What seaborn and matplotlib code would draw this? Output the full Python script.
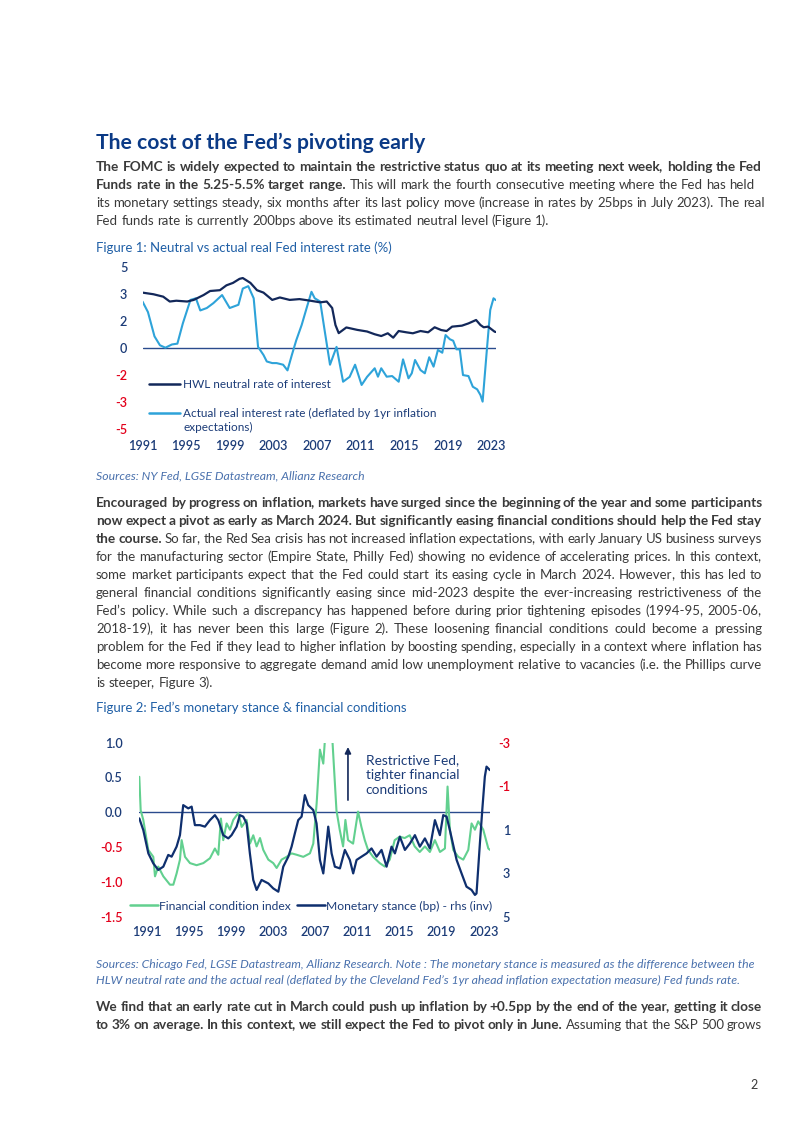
"""Page 2 of the Fed pivot note: text plus two line charts."""
import matplotlib
matplotlib.use("Agg")
import matplotlib.pyplot as plt
import numpy as np
import seaborn as sns
from matplotlib.lines import Line2D

sns.set_theme(style="white")
plt.rcParams["font.family"] = "Lato"

PAGE_W, PAGE_H = 802, 1133

TITLE_BLUE = "#0b3a86"
CAPTION_BLUE = "#1f5fa6"
SOURCE_BLUE = "#4a71ad"
BODY_GREY = "#3a3a3a"
NAVY = "#13285a"
LIGHT_BLUE = "#2ea3d9"
GREEN = "#62d08f"
STANCE_NAVY = "#0f2f6e"
ZERO_BLUE = "#2a4b8d"
TICK_NAVY = "#1c3c78"
TICK_RED = "#e3001b"

# Figure 1: neutral vs actual real Fed rate (%)
NEUTRAL_YEAR = [1991.0, 1992.0, 1992.9, 1993.5, 1994.1, 1995.1, 1995.7, 1996.6, 1997.2, 1998.1,
                1998.7, 1999.3, 1999.9, 2000.2, 2000.9, 2001.5, 2002.1, 2002.9, 2003.6, 2004.5,
                2005.4, 2006.4, 2007.3, 2007.9, 2008.4, 2008.7, 2009.0, 2009.7, 2010.7, 2011.6,
                2012.3, 2012.9, 2013.5, 2014.0, 2014.5, 2015.2, 2015.8, 2016.5, 2017.2, 2017.8,
                2018.4, 2018.9, 2019.4, 2020.3, 2020.9, 2021.6, 2022.0, 2022.3, 2022.7, 2023.3,
                2023.4]
NEUTRAL_RATE = [3.40, 3.30, 3.15, 2.85, 2.90, 2.85, 2.95, 3.25, 3.50, 3.55,
                3.85, 4.00, 4.25, 4.30, 4.00, 3.55, 3.40, 2.95, 3.10, 2.95,
                3.00, 2.90, 2.80, 2.85, 2.45, 1.40, 0.90, 1.25, 1.10, 1.00,
                0.83, 0.72, 0.89, 0.62, 1.03, 0.95, 0.89, 1.03, 0.95, 1.26,
                1.09, 1.03, 1.30, 1.36, 1.50, 1.71, 1.40, 1.26, 1.30, 0.99,
                0.97]
ACTUAL_YEAR = [1991.0, 1991.5, 1992.1, 1992.6, 1993.1, 1993.7, 1994.2, 1994.7, 1995.4, 1995.9,
               1996.3, 1996.9, 1997.5, 1998.3, 1999.0, 1999.8, 2000.2, 2000.7, 2001.2, 2001.6,
               2002.1, 2002.4, 2002.9, 2003.3, 2003.9, 2004.3, 2004.7, 2005.1, 2005.6, 2006.1,
               2006.5, 2006.8, 2007.3, 2007.7, 2008.2, 2008.8, 2009.4, 2010.0, 2010.5, 2011.1,
               2011.6, 2012.3, 2012.6, 2012.9, 2013.4, 2013.9, 2014.5, 2014.9, 2015.4, 2015.7,
               2016.0, 2016.5, 2016.9, 2017.3, 2017.7, 2018.1, 2018.5, 2018.8, 2019.2, 2019.5,
               2019.8, 2020.1, 2020.4, 2020.9, 2021.3, 2021.7, 2022.0, 2022.2, 2022.6, 2022.9,
               2023.2, 2023.4]
ACTUAL_RATE = [2.85, 2.20, 0.70, 0.15, 0.00, 0.20, 0.25, 1.50, 2.95, 3.05,
               2.30, 2.45, 2.75, 3.25, 2.45, 2.65, 3.65, 3.80, 3.05, 0.05,
               -0.45, -0.85, -0.95, -0.95, -1.05, -1.40, -0.45, 0.45, 1.40, 2.55,
               3.45, 3.05, 2.85, 1.10, -1.05, 0.05, -2.10, -1.80, -1.05, -2.30,
               -1.80, -1.27, -1.79, -1.27, -1.79, -1.75, -2.10, -0.72, -1.89, -1.58,
               -0.76, -1.38, -1.58, -0.59, -1.17, -0.14, -0.31, 0.78, 0.52, 0.43,
               -0.10, -0.10, -1.69, -1.75, -2.41, -2.57, -2.92, -3.33, -0.04, 2.33,
               3.05, 2.94]
FIG1_XTICKS = [1991, 1995, 1999, 2003, 2007, 2011, 2015, 2019, 2023]
FIG1_YTICK_LABELS = ["-5", "-3", "-2", "0", "2", "3", "5"]
FIG1_LEGEND = ["HWL neutral rate of interest",
               "Actual real interest rate (deflated by 1yr inflation"]
FIG1_LEGEND_WRAP = "expectations)"

# Figure 2: financial conditions (lhs) and monetary stance (rhs, inverted)
FCI_YEAR = [1990.30, 1990.43, 1990.68, 1991.15, 1991.63, 1991.79, 1992.10, 1992.58, 1993.21, 1993.53,
            1993.84, 1994.16, 1994.32, 1994.64, 1995.11, 1995.74, 1996.38, 1997.01, 1997.48, 1997.80,
            1998.05, 1998.27, 1998.59, 1998.91, 1999.22, 1999.70, 2000.02, 2000.49, 2000.81, 2001.12,
            2001.44, 2001.76, 2002.07, 2002.55, 2003.02, 2003.34, 2003.81, 2004.29, 2004.76, 2005.24,
            2005.87, 2006.50, 2006.82, 2007.14, 2007.45, 2007.77, 2007.93, 2008.24, 2008.65, 2009.02,
            2009.33, 2009.65, 2009.87, 2010.12, 2010.60, 2011.07, 2011.39, 2011.71, 2012.02, 2012.50,
            2013.13, 2013.61, 2014.08, 2014.55, 2015.03, 2015.50, 2015.98, 2016.45, 2016.93, 2017.42,
            2017.89, 2018.37, 2018.85, 2019.32, 2019.57, 2019.79, 2020.11, 2020.59, 2021.06, 2021.54,
            2021.85, 2022.17, 2022.48, 2022.96, 2023.44, 2023.60]
FCI_VALUE = [0.51, 0.03, -0.11, -0.54, -0.64, -0.92, -0.78, -0.92, -1.04, -1.04,
             -0.88, -0.68, -0.40, -0.64, -0.73, -0.76, -0.73, -0.66, -0.52, -0.61,
             -0.09, -0.40, -0.16, -0.25, -0.11, -0.01, -0.21, -0.11, -0.45, -0.33,
             -0.49, -0.37, -0.54, -0.68, -0.73, -0.80, -0.68, -0.64, -0.59, -0.61,
             -0.64, -0.59, -0.45, 0.13, 0.90, 0.70, 1.05, 2.20, 1.00, 0.03,
             -0.25, -0.49, -0.11, -0.40, -0.45, 0.01, -0.21, -0.40, -0.54, -0.64,
             -0.73, -0.78, -0.68, -0.40, -0.35, -0.37, -0.33, -0.49, -0.57, -0.49,
             -0.57, -0.40, -0.57, -0.52, 0.37, -0.25, -0.54, -0.64, -0.68, -0.54,
             -0.16, -0.25, -0.13, -0.25, -0.52, -0.54]
STANCE_YEAR = [1990.30, 1990.68, 1991.16, 1991.63, 1992.10, 1992.58, 1993.05, 1993.37, 1993.84, 1994.16,
               1994.47, 1994.95, 1995.27, 1995.58, 1996.06, 1996.53, 1997.01, 1997.48, 1997.80, 1998.27,
               1998.75, 1999.06, 1999.54, 1999.85, 2000.17, 2000.49, 2000.80, 2001.12, 2001.44, 2001.91,
               2002.55, 2003.02, 2003.50, 2003.97, 2004.45, 2004.76, 2005.07, 2005.39, 2005.71, 2006.02,
               2006.34, 2006.82, 2007.13, 2007.45, 2007.77, 2008.08, 2008.24, 2008.56, 2008.87, 2009.35,
               2009.82, 2010.29, 2010.61, 2010.93, 2011.40, 2011.88, 2012.35, 2012.83, 2013.30, 2013.78,
               2014.25, 2014.57, 2015.04, 2015.52, 2016.00, 2016.47, 2016.94, 2017.42, 2017.89, 2018.37,
               2018.84, 2019.16, 2019.48, 2019.79, 2020.11, 2020.43, 2020.90, 2021.37, 2021.85, 2022.17,
               2022.32, 2022.64, 2022.89, 2023.11, 2023.27, 2023.59]
STANCE_VALUE = [0.48, 1.02, 2.09, 2.55, 2.85, 2.70, 2.16, 2.24, 1.78, 1.25,
                -0.13, 0.02, -0.06, 0.79, 0.79, 0.86, 0.56, 0.33, 0.56, 1.25,
                1.40, 1.25, 0.86, 0.33, 0.40, 0.71, 2.09, 3.31, 3.77, 3.31,
                3.47, 3.70, 3.85, 2.70, 2.24, 1.78, 1.17, 0.56, 0.40, -0.59,
                -0.13, 0.10, 0.71, 2.39, 3.01, 1.63, 0.86, 2.09, 2.70, 2.78,
                1.93, 2.39, 3.01, 2.39, 2.24, 2.09, 1.86, 2.24, 1.93, 2.70,
                1.78, 2.09, 1.32, 1.93, 1.63, 1.25, 1.78, 1.40, 1.86, 0.56,
                1.25, 0.33, 0.40, 1.02, 1.71, 2.39, 3.01, 3.62, 3.77, 4.00,
                3.93, 1.63, -0.06, -1.44, -1.90, -1.74]
FIG2_XTICKS = [1991, 1995, 1999, 2003, 2007, 2011, 2015, 2019, 2023]
FIG2_LEFT_TICKS = [-1.5, -1.0, -0.5, 0.0, 0.5, 1.0]
FIG2_RIGHT_TICKS = [-3, -1, 1, 3, 5]
FIG2_LEGEND = ["Financial condition index", "Monetary stance (bp) - rhs (inv)"]
FIG2_NOTE = "Restrictive Fed,\ntighter financial\nconditions"

# Page text
TITLE = "The cost of the Fed’s pivoting early"
PARA1 = [
    [("The FOMC is widely expected to maintain the restrictive status quo at its meeting next week, holding the Fed", "bold")],
    [("Funds rate in the 5.25-5.5% target range.", "bold"),
     ("This will mark the fourth consecutive meeting where the Fed has held", "normal")],
    [("its monetary settings steady, six months after its last policy move (increase in rates by 25bps in July 2023). The real", "normal")],
    [("Fed funds rate is currently 200bps above its estimated neutral level (Figure 1).", "normal")],
]
PARA2 = [
    [("Encouraged by progress on inflation, markets have surged since the beginning of the year and some participants", "bold")],
    [("now expect a pivot as early as March 2024. But significantly easing financial conditions should help the Fed stay", "bold")],
    [("the course.", "bold"),
     ("So far, the Red Sea crisis has not increased inflation expectations, with early January US business surveys", "normal")],
    [("for the manufacturing sector (Empire State, Philly Fed) showing no evidence of accelerating prices. In this context,", "normal")],
    [("some market participants expect that the Fed could start its easing cycle in March 2024. However, this has led to", "normal")],
    [("general financial conditions significantly easing since mid-2023 despite the ever-increasing restrictiveness of the", "normal")],
    [("Fed’s policy. While such a discrepancy has happened before during prior tightening episodes (1994-95, 2005-06,", "normal")],
    [("2018-19), it has never been this large (Figure 2). These loosening financial conditions could become a pressing", "normal")],
    [("problem for the Fed if they lead to higher inflation by boosting spending, especially in a context where inflation has", "normal")],
    [("become more responsive to aggregate demand amid low unemployment relative to vacancies (i.e. the Phillips curve", "normal")],
    [("is steeper, Figure 3).", "normal")],
]
PARA3 = [
    [("We find that an early rate cut in March could push up inflation by +0.5pp by the end of the year, getting it close", "bold")],
    [("to 3% on average. In this context, we still expect the Fed to pivot only in June.", "bold"),
     ("Assuming that the S&P 500 grows", "normal")],
]
CAPTION1 = "Figure 1: Neutral vs actual real Fed interest rate (%)"
CAPTION2 = "Figure 2: Fed’s monetary stance & financial conditions"
SOURCES1 = ["Sources: NY Fed, LGSE Datastream, Allianz Research"]
SOURCES2 = ["Sources: Chicago Fed, LGSE Datastream, Allianz Research. Note : The monetary stance is measured as the difference between the",
            "HLW neutral rate and the actual real (deflated by the Cleveland Fed’s 1yr ahead inflation expectation measure) Fed funds rate."]

fig = plt.figure(figsize=(PAGE_W / 100, PAGE_H / 100), dpi=100)
fig.patch.set_facecolor("white")
renderer = fig.canvas.get_renderer()


def _to_fig(x, y):
    return x / PAGE_W, 1 - y / PAGE_H


def _width(s, size, weight="normal", style="normal"):
    t = fig.text(0, 0, s, fontsize=size, fontweight=weight, fontstyle=style)
    w = t.get_window_extent(renderer).width
    t.remove()
    return w


def _fit(s, target, weight="normal", style="normal"):
    return 10 * target / _width(s, 10, weight, style)


SIZES = {}


def _draw_word(x, y, word, wt, color, style):
    # a trailing comma is drawn on its own so the word keeps the same baseline
    size = SIZES[wt]
    fig.text(*_to_fig(x, y), word.rstrip(","), fontsize=size, fontweight=wt, fontstyle=style,
             color=color, va="baseline", ha="left")
    if len(word) > 1 and word.endswith(","):
        cx = x + _width(word, size, wt, style) - _width(",", size, wt, style) - 1.6
        fig.text(*_to_fig(cx, y), ",", fontsize=size, fontweight=wt, fontstyle=style,
                 color=color, va="baseline", ha="left")


def _line(y, segments, color, x0=96, x1=None, style="normal"):
    words = [(w, wt) for s, wt in segments for w in s.split()]
    widths = [_width(w, SIZES[wt], wt, style) for w, wt in words]
    size = SIZES["normal"]
    space = _width("a a", size, style=style) - _width("aa", size, style=style)
    gap = space
    if x1 is not None and len(words) > 1:
        gap = max((x1 - x0 - sum(widths)) / (len(words) - 1), 0.5 * space)
    x = x0
    for (w, wt), wd in zip(words, widths):
        _draw_word(x, y, w, wt, color, style)
        x += wd + gap


def _paragraph(lines, first_baseline, justify=True, justify_last=False):
    for i, segs in enumerate(lines):
        last = i == len(lines) - 1
        right = 762 if justify and (not last or justify_last) else None
        _line(first_baseline + 18 * i, segs, BODY_GREY, x1=right)


def _axes(left, top, right, bottom):
    return fig.add_axes([left / PAGE_W, 1 - bottom / PAGE_H,
                         (right - left) / PAGE_W, (bottom - top) / PAGE_H])


def _clean(ax):
    for spine in ax.spines.values():
        spine.set_visible(False)
    ax.set_facecolor("none")
    ax.grid(False)
    ax.set_xlabel("")
    ax.set_ylabel("")


def _colour_ticks(labels, values, size):
    for lbl, v in zip(labels, values):
        lbl.set_color(TICK_RED if v < 0 else TICK_NAVY)
        lbl.set_fontweight("semibold")
        lbl.set_fontsize(size)


SIZES["bold"] = _fit(PARA1[0][0][0], 664, "bold")
SIZES["normal"] = _fit(PARA1[2][0][0], 670)
title_size = _fit(TITLE, 331, "bold")
caption_size = _fit(CAPTION1, 295)
source_size = _fit(SOURCES1[0], 269, style="italic")
tick_size = _fit("1991", 29, "semibold")

# ---- text blocks
fig.text(*_to_fig(96, 149), TITLE, fontsize=title_size, fontweight="bold", color=TITLE_BLUE, va="baseline")
_paragraph(PARA1, 171, justify=False)
fig.text(*_to_fig(96, 252), CAPTION1, fontsize=caption_size, color=CAPTION_BLUE, va="baseline")
fig.text(*_to_fig(96, 479.5), SOURCES1[0], fontsize=source_size, fontstyle="italic", color=SOURCE_BLUE, va="baseline")
_paragraph(PARA2, 507)
fig.text(*_to_fig(96, 712), CAPTION2, fontsize=caption_size, color=CAPTION_BLUE, va="baseline")
for i, s in enumerate(SOURCES2):
    fig.text(*_to_fig(96, 967.5 + 16 * i), s, fontsize=source_size, fontstyle="italic", color=SOURCE_BLUE, va="baseline")
_paragraph(PARA3, 1011, justify_last=True)
fig.text(*_to_fig(750, 1089), "2", fontsize=9, color=BODY_GREY, va="baseline")

# ---- Figure 1
ax1 = _axes(142.5, 266.7, 495.7, 428.7)
ax1.axhline(0, color=ZERO_BLUE, lw=1.0, zorder=1)
sns.lineplot(x=NEUTRAL_YEAR, y=NEUTRAL_RATE, ax=ax1, color=NAVY, lw=1.6, zorder=3)
sns.lineplot(x=ACTUAL_YEAR, y=ACTUAL_RATE, ax=ax1, color=LIGHT_BLUE, lw=1.5, zorder=2)
_clean(ax1)
ax1.set_xlim(1991, 2023.4)
ax1.set_ylim(-5, 5)
ax1.set_xticks(FIG1_XTICKS)
ax1.set_xticklabels([str(y) for y in FIG1_XTICKS])
fig1_yticks = np.linspace(-5, 5, len(FIG1_YTICK_LABELS))
ax1.set_yticks(fig1_yticks)
ax1.set_yticklabels(FIG1_YTICK_LABELS)
ax1.tick_params(axis="x", length=0, pad=8)
ax1.tick_params(axis="y", length=0, pad=11)
_colour_ticks(ax1.get_xticklabels(), FIG1_XTICKS, tick_size)
_colour_ticks(ax1.get_yticklabels(), [float(v) for v in FIG1_YTICK_LABELS], tick_size)
leg1_size = _fit(FIG1_LEGEND[0], 147)
leg1 = ax1.legend([Line2D([], [], color=NAVY, lw=1.8), Line2D([], [], color=LIGHT_BLUE, lw=1.8)],
                  FIG1_LEGEND, loc="upper left", bbox_to_anchor=_to_fig(149, 379),
                  bbox_transform=fig.transFigure, frameon=False, fontsize=leg1_size,
                  handlelength=2.6, handletextpad=0.3, labelspacing=1.5,
                  borderpad=0, borderaxespad=0, labelcolor=TICK_NAVY)
ax1.annotate(FIG1_LEGEND_WRAP, xy=(0, 0), xycoords=leg1.get_texts()[1],
             xytext=(0, -14), textcoords="offset pixels", ha="left", va="bottom",
             fontsize=leg1_size, color=TICK_NAVY, zorder=6, annotation_clip=False)

# ---- Figure 2
ax2 = _axes(139.3, 742.7, 490, 916.7)
ax2.axhline(0, color=ZERO_BLUE, lw=1.0, zorder=1)
sns.lineplot(x=FCI_YEAR, y=FCI_VALUE, ax=ax2, color=GREEN, lw=1.5)
_clean(ax2)
ax2.set_xlim(1990.3, 2023.6)
ax2.set_ylim(-1.5, 1.0)
ax2.set_xticks(FIG2_XTICKS)
ax2.set_xticklabels([str(y) for y in FIG2_XTICKS])
ax2.set_yticks(FIG2_LEFT_TICKS)
ax2.set_yticklabels([f"{v:.1f}" for v in FIG2_LEFT_TICKS])
ax2.tick_params(axis="x", length=0, pad=7)
ax2.tick_params(axis="y", length=0, pad=12)
_colour_ticks(ax2.get_xticklabels(), FIG2_XTICKS, tick_size)
_colour_ticks(ax2.get_yticklabels(), FIG2_LEFT_TICKS, tick_size)

ax2r = ax2.twinx()
sns.lineplot(x=STANCE_YEAR, y=STANCE_VALUE, ax=ax2r, color=STANCE_NAVY, lw=1.6)
_clean(ax2r)
ax2r.set_xlim(1990.3, 2023.6)
ax2r.set_ylim(5, -3)
ax2r.set_yticks(FIG2_RIGHT_TICKS)
ax2r.set_yticklabels([str(v) for v in FIG2_RIGHT_TICKS])
ax2r.tick_params(axis="y", length=0, pad=14.5)
_colour_ticks(ax2r.get_yticklabels(), FIG2_RIGHT_TICKS, tick_size)
for lbl in ax2r.get_yticklabels():
    lbl.set_horizontalalignment("right")

note_size = _fit("tighter financial", 93)
ax2r.annotate("", xy=(0.595, 0.975), xytext=(0.595, 0.67), xycoords="axes fraction",
              arrowprops=dict(arrowstyle="-|>", color=NAVY, lw=1.2, mutation_scale=9,
                              shrinkA=0, shrinkB=0))
ax2r.text(0.646, 0.935, FIG2_NOTE, transform=ax2r.transAxes, va="top", ha="left",
          fontsize=note_size, color=TICK_NAVY, linespacing=1.3)
leg2_size = _fit(FIG2_LEGEND[1], 166)
ax2r.legend([Line2D([], [], color=GREEN, lw=1.8), Line2D([], [], color=STANCE_NAVY, lw=1.8)],
            FIG2_LEGEND, loc="center left", bbox_to_anchor=_to_fig(130, 906),
            bbox_transform=fig.transFigure, frameon=False, fontsize=leg2_size, ncol=2,
            handlelength=2.3, handletextpad=0.1, columnspacing=0.5,
            borderpad=0, borderaxespad=0, labelcolor=TICK_NAVY)

fig.savefig("out.png", dpi=100, facecolor="white")
